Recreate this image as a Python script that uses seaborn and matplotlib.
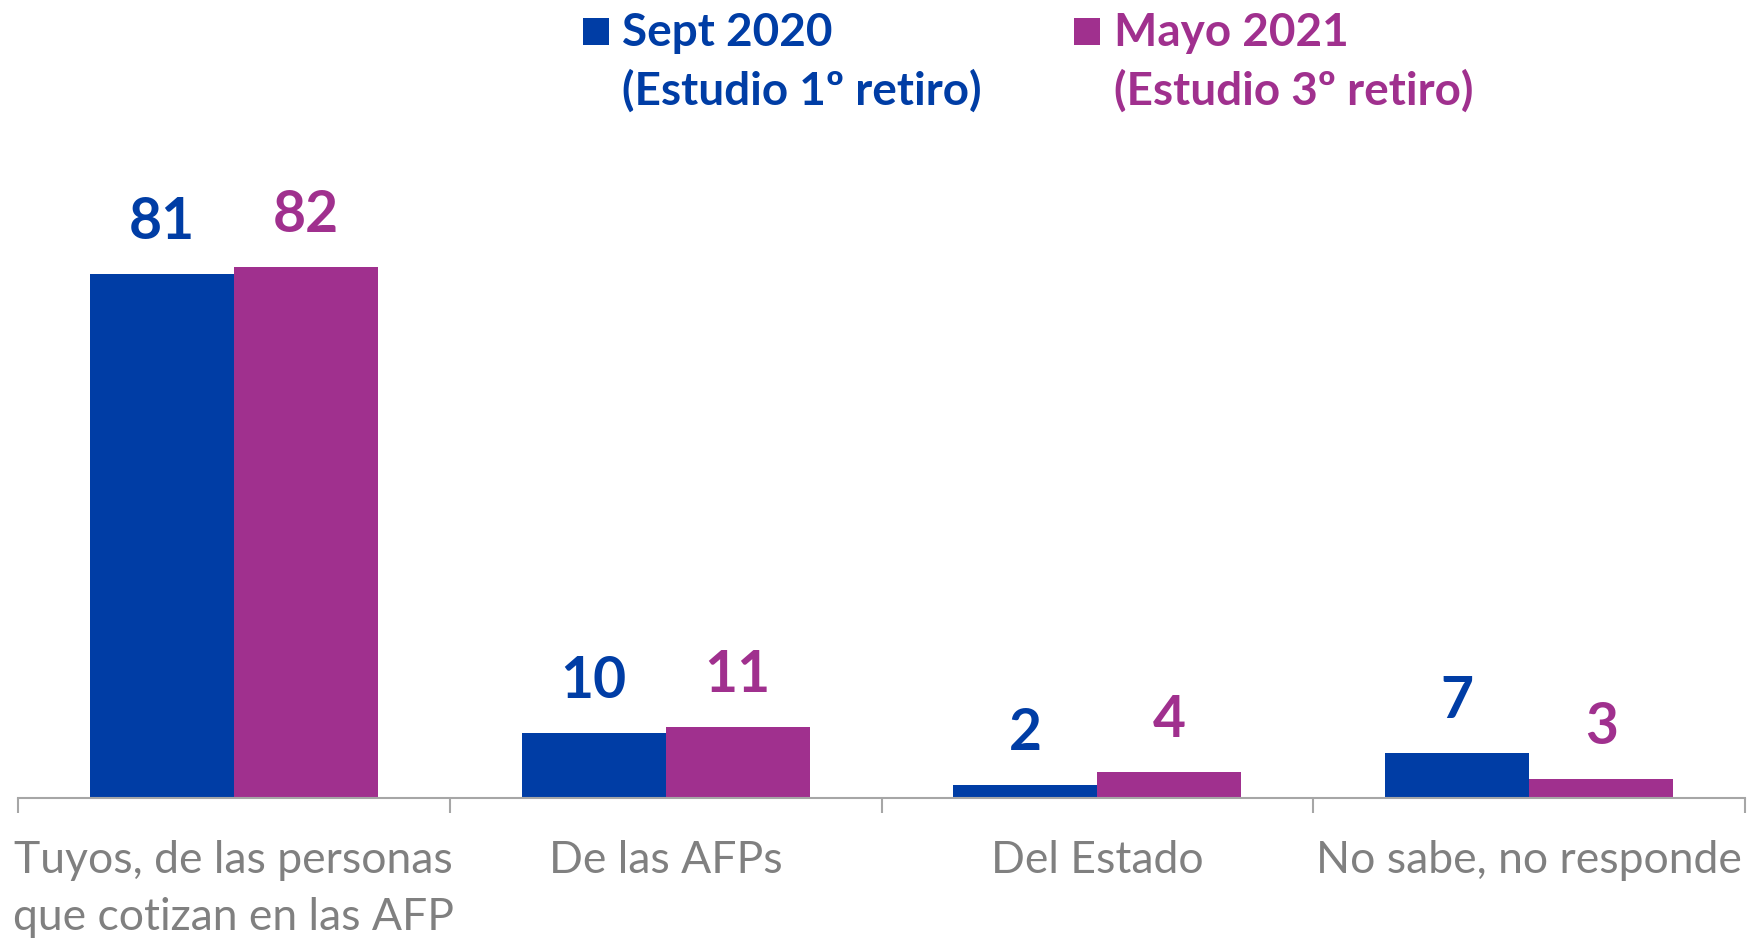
import matplotlib
matplotlib.use("Agg")
import matplotlib.pyplot as plt
from matplotlib.patches import Rectangle
import seaborn as sns
import pandas as pd

categories = ["Tuyos, de las personas\nque cotizan en las AFP", "De las AFPs", "Del Estado", "No sabe, no responde"]
series_names = ["Sept 2020", "Mayo 2021"]
series_sub = ["(Estudio 1º retiro)", "(Estudio 3º retiro)"]
sept_2020 = [81, 10, 2, 7]
mayo_2021 = [82, 11, 4, 3]
colors = ["#003DA5", "#A0308E"]

df = pd.DataFrame({
    "cat": categories * 2,
    "serie": [series_names[0]] * 4 + [series_names[1]] * 4,
    "val": sept_2020 + mayo_2021,
})

sns.set_theme(style="white")
plt.rcParams["font.family"] = ["Lato", "DejaVu Sans"]

W, H = 1750, 940
fig = plt.figure(figsize=(W / 100, H / 100), dpi=100)
ax = fig.add_axes([18 / W, 142 / H, (1745 - 18) / W, 647 / H])

sns.barplot(data=df, x="cat", y="val", hue="serie", order=categories,
            hue_order=series_names, palette=colors, width=0.667, gap=0,
            saturation=1, ax=ax, legend=False, edgecolor="none", linewidth=0)

ax.set_xlim(-0.5, 3.5)
ax.set_ylim(0, 100)
ax.set_xlabel("")
ax.set_ylabel("")
ax.set_yticks([])
for s in ["top", "right", "left"]:
    ax.spines[s].set_visible(False)
ax.spines["bottom"].set_color("#A6A6A6")
ax.spines["bottom"].set_linewidth(1.5)

ax.set_xticks(range(len(categories)))
ax.set_xticklabels(categories, fontsize=32, color="#808080", linespacing=1.48)
ax.tick_params(axis="x", which="major", length=0, pad=30)
ax.set_xticks([-0.5, 0.5, 1.5, 2.5, 3.5], minor=True)
ax.tick_params(axis="x", which="minor", length=11, width=1.5, color="#A6A6A6",
               direction="out", bottom=True)

for cont, col in zip(ax.containers, colors):
    ax.bar_label(cont, padding=18, fontsize=41, fontweight="bold", color=col)

# legend
leg_x = [583, 1074]
txt_x = [622, 1114]
for i in range(2):
    fig.add_artist(Rectangle((leg_x[i] / W, 1 - 45 / H), 26 / W, 27 / H,
                             transform=fig.transFigure, color=colors[i], lw=0))
    fig.text(txt_x[i] / W, 1 - 33 / H, series_names[i], fontsize=33,
             fontweight="bold", color=colors[i], va="center", ha="left")
    fig.text(txt_x[i] / W, 1 - 91 / H, series_sub[i], fontsize=33,
             fontweight="bold", color=colors[i], va="center", ha="left")

fig.savefig("out.png", dpi=100)
